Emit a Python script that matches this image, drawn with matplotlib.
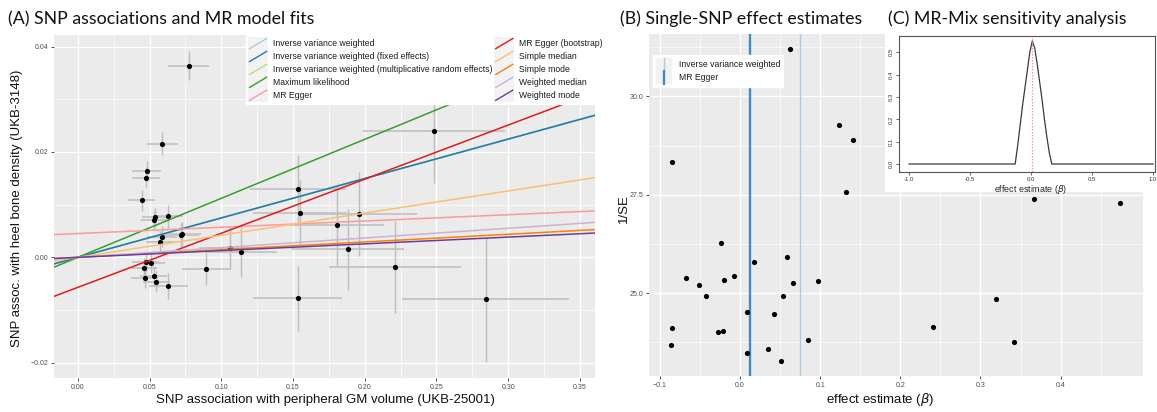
import matplotlib
matplotlib.use('Agg')
import matplotlib.pyplot as plt
from matplotlib.legend_handler import HandlerBase
from matplotlib.lines import Line2D
from matplotlib.patches import Rectangle
from matplotlib.ticker import FixedLocator, FixedFormatter

plt.rcParams['font.family'] = ['Liberation Sans', 'DejaVu Sans']

# ---------------- data: panel A (SNP associations) ----------------
bx = [0.0772, 0.0588, 0.0479, 0.0474, 0.0446, 0.0539, 0.0530, 0.0630, 0.0586, 0.0576,
      0.0716, 0.0729, 0.0474, 0.0513, 0.0462, 0.0465, 0.0530, 0.0546, 0.0632, 0.0895,
      0.1058, 0.1139, 0.1534, 0.1548, 0.1806, 0.1957, 0.1880, 0.2208, 0.1534, 0.2843,
      0.2485]
by = [0.0364, 0.0216, 0.0163, 0.0151, 0.0108, 0.0076, 0.0070, 0.0078, 0.0039, 0.0030,
      0.0042, 0.0045, -0.0009, -0.0011, -0.0020, -0.0039, -0.0036, -0.0046, -0.0054, -0.0022,
      0.0018, 0.0010, 0.0129, 0.0084, 0.0061, 0.0082, 0.0015, -0.0018, -0.0078, -0.0080,
      0.0240]
se_bx = [0.0144, 0.0108, 0.0102, 0.0099, 0.0093, 0.0090, 0.0092, 0.0100, 0.0105, 0.0100,
         0.0130, 0.0130, 0.0095, 0.0095, 0.0092, 0.0092, 0.0095, 0.0095, 0.0137, 0.0171,
         0.0210, 0.0250, 0.0335, 0.0330, 0.0331, 0.0405, 0.0395, 0.0460, 0.0310, 0.0580,
         0.0494]
se_by = [0.0027, 0.0021, 0.0019, 0.0018, 0.0020, 0.0018, 0.0018, 0.0022, 0.0020, 0.0020,
         0.0023, 0.0023, 0.0019, 0.0019, 0.0019, 0.0019, 0.0019, 0.0020, 0.0025, 0.0031,
         0.0040, 0.0048, 0.0065, 0.0063, 0.0077, 0.0080, 0.0077, 0.0087, 0.0061, 0.0118,
         0.0098]

methods = ["Inverse variance weighted",
           "Inverse variance weighted (fixed effects)",
           "Inverse variance weighted (multiplicative random effects)",
           "Maximum likelihood",
           "MR Egger",
           "MR Egger (bootstrap)",
           "Simple median",
           "Simple mode",
           "Weighted median",
           "Weighted mode"]
method_colors = ['#a6cee3', '#1f78b4', '#b2df8a', '#33a02c', '#fb9a99',
                 '#e31a1c', '#fdbf6f', '#ff7f00', '#cab2d6', '#6a3d9a']
slopes = [0.0748, 0.0748, 0.0748, 0.1120, 0.0119, 0.1027, 0.0420, 0.0146, 0.0184, 0.0128]
intercepts = [0.0, 0.0, 0.0, 0.0, 0.00452, -0.0057, 0.0, 0.0, 0.0, 0.0]
draw_order = [0, 2, 1, 3, 4, 5, 6, 7, 8, 9]

# ---------------- data: panel B (single-SNP estimates) ----------------
ratio = [0.0620, 0.1235, 0.1406, -0.0844, 0.1318, -0.0241, 0.0590, 0.0170, -0.0678, -0.0075,
         -0.0200, -0.0507, 0.0973, 0.0657, -0.0428, 0.0540, 0.0087, 0.0420, -0.0844, -0.0274,
         -0.0212, -0.0861, 0.0848, 0.0087, 0.0345, 0.0516, 0.3668, 0.4745, 0.3194, 0.2408,
         0.3423]
inv_se = [31.20, 29.28, 28.89, 28.32, 27.57, 26.28, 25.92, 25.78, 25.39, 25.43,
          25.33, 25.21, 25.31, 25.25, 24.93, 24.93, 24.53, 24.47, 24.11, 24.02,
          24.04, 23.69, 23.80, 23.47, 23.58, 23.26, 27.40, 27.29, 24.84, 24.13,
          23.75]
funnel_methods = ["Inverse variance weighted", "MR Egger"]
funnel_estimates = [0.0753, 0.0125]
funnel_colors = ['#a6cee3', '#3d8cc4']

# ---------------- data: panel C (MR-Mix profile) ----------------
mix_x = [-1.00, -0.13, -0.11, -0.09, -0.07, -0.05, -0.03, -0.01, 0.01, 0.03, 0.05,
         0.07, 0.09, 0.11, 0.13, 0.15, 0.17, 1.00]
mix_y = [0.0, 0.0, 0.08, 0.17, 0.26, 0.34, 0.42, 0.50, 0.55, 0.52, 0.45,
         0.37, 0.29, 0.20, 0.12, 0.05, 0.0, 0.0]
mix_est = 0.01

A_xticks = [0.00, 0.05, 0.10, 0.15, 0.20, 0.25, 0.30, 0.35]
A_yticks = [-0.02, 0.00, 0.02, 0.04]
B_xticks = [-0.1, 0.0, 0.1, 0.2, 0.3, 0.4]
B_yticks = [25.0, 27.5, 30.0]
C_xticks = [-1.0, -0.5, 0.0, 0.5, 1.0]
C_yticks = [0.0, 0.1, 0.2, 0.3, 0.4, 0.5]

# ---------------- layout helpers ----------------
W, H = 1157, 412
fig = plt.figure(figsize=(W / 100, H / 100), dpi=100)
fig.patch.set_facecolor('white')


def rect(l, t, r, b):
    return [l / W, 1 - b / H, (r - l) / W, (b - t) / H]


def gg_style(ax):
    ax.set_facecolor('#ebebeb')
    for s in ax.spines.values():
        s.set_visible(False)
    ax.set_axisbelow(True)
    ax.grid(which='major', color='white', lw=1.0)
    ax.grid(which='minor', color='white', lw=0.5)
    ax.tick_params(which='major', length=2.5, width=0.6, color='#333333',
                   labelsize=5, labelcolor='#4d4d4d', pad=1.5)
    ax.tick_params(which='minor', length=0)


def fmt_minus(v, nd):
    s = f"{v:.{nd}f}"
    return s.replace('-', '\u2212')


class KeyHandler(HandlerBase):
    def __init__(self, vertical=False, lw=1.0):
        super().__init__()
        self.vertical = vertical
        self.lw = lw

    def create_artists(self, legend, orig_handle, xdescent, ydescent, width, height,
                       fontsize, trans):
        x0, y0 = -xdescent, -ydescent
        bg = Rectangle((x0, y0), width, height, facecolor='#f2f2f2',
                       edgecolor='none', transform=trans)
        if self.vertical:
            ln = Line2D([x0 + width / 2] * 2, [y0, y0 + height],
                        color=orig_handle.get_color(), lw=orig_handle.get_linewidth(),
                        transform=trans)
        else:
            ln = Line2D([x0 + 1, x0 + width - 1], [y0 + 1, y0 + height - 1],
                        color=orig_handle.get_color(), lw=self.lw, transform=trans)
        return [bg, ln]


# ================= Panel A =================
axA = fig.add_axes(rect(54, 35, 595, 378))
gg_style(axA)
axA.set_xlim(-0.0166, 0.3605)
axA.set_ylim(-0.0229, 0.0422)
axA.xaxis.set_major_locator(FixedLocator(A_xticks))
axA.xaxis.set_major_formatter(FixedFormatter([fmt_minus(v, 2) for v in A_xticks]))
axA.xaxis.set_minor_locator(FixedLocator([0.025, 0.075, 0.125, 0.175, 0.225, 0.275, 0.325]))
axA.yaxis.set_major_locator(FixedLocator(A_yticks))
axA.yaxis.set_major_formatter(FixedFormatter([fmt_minus(v, 2) for v in A_yticks]))
axA.yaxis.set_minor_locator(FixedLocator([-0.01, 0.01, 0.03]))

axA.errorbar(bx, by, xerr=se_bx, fmt='none', ecolor='#c4c4c4', elinewidth=1.3, capsize=0, zorder=2)
axA.errorbar(bx, by, yerr=se_by, fmt='none', ecolor='#bdbdbd', elinewidth=1.0, capsize=0, zorder=2)
axA.scatter(bx, by, s=14, color='black', zorder=3, linewidths=0)
for i in draw_order:
    axA.axline((0, intercepts[i]), slope=slopes[i], color=method_colors[i], lw=1.1, zorder=4)

handlesA = [Line2D([], [], color=c) for c in method_colors]
legA = axA.legend(handlesA, methods, ncol=2, loc='upper left',
                  bbox_to_anchor=((246 - 54) / 541, 1.0), borderaxespad=0,
                  fontsize=6.2, frameon=True, fancybox=False, framealpha=1,
                  facecolor='white', edgecolor='white',
                  handler_map={Line2D: KeyHandler(vertical=False, lw=1.0)},
                  handlelength=2.3, handleheight=1.93, labelspacing=0.0,
                  handletextpad=0.6, columnspacing=0.2, borderpad=0.25)
legA.set_zorder(10)
for t in legA.get_texts():
    t.set_color('#1a1a1a')

# ================= Panel B =================
axB = fig.add_axes(rect(649, 34.3, 1142.7, 376))
gg_style(axB)
axB.set_xlim(-0.1135, 0.5024)
axB.set_ylim(22.89, 31.58)
axB.xaxis.set_major_locator(FixedLocator(B_xticks))
axB.xaxis.set_major_formatter(FixedFormatter([fmt_minus(v, 1) for v in B_xticks]))
axB.xaxis.set_minor_locator(FixedLocator([-0.05, 0.05, 0.15, 0.25, 0.35, 0.45]))
axB.yaxis.set_major_locator(FixedLocator(B_yticks))
axB.yaxis.set_major_formatter(FixedFormatter([fmt_minus(v, 1) for v in B_yticks]))
axB.yaxis.set_minor_locator(FixedLocator([23.75, 26.25, 28.75, 31.25]))

axB.scatter(ratio, inv_se, s=14, color='black', zorder=3, linewidths=0)
vl_widths = [1.0, 1.7]
handlesB = []
for est, col, lw in zip(funnel_estimates, funnel_colors, vl_widths):
    axB.axvline(est, color=col, lw=lw, zorder=2)
    handlesB.append(Line2D([], [], color=col, lw=lw))
legB = axB.legend(handlesB, funnel_methods, loc='upper left',
                  bbox_to_anchor=((653 - 649) / 493.7, 1 - (55 - 34.3) / 341.7),
                  borderaxespad=0, fontsize=6.2, frameon=True, fancybox=False,
                  framealpha=1, facecolor='white', edgecolor='white',
                  handler_map={Line2D: KeyHandler(vertical=True)},
                  handlelength=1.9, handleheight=1.93, labelspacing=0.0,
                  handletextpad=0.75, borderpad=0.35)
for t in legB.get_texts():
    t.set_color('#1a1a1a')

# ================= Panel C (inset, base-R style) =================
axBg = fig.add_axes(rect(885, 33, 1157, 192))
axBg.set_facecolor('white')
axBg.set_xticks([])
axBg.set_yticks([])
for s in axBg.spines.values():
    s.set_visible(False)

axC = fig.add_axes(rect(899, 36, 1155, 171.7))
axC.set_facecolor('white')
axC.plot(mix_x, mix_y, color='#3a3a3a', lw=0.9)
axC.axvline(mix_est, color='#f29a9a', ls=(0, (1.2, 1.2)), lw=0.9)
axC.set_xlim(-1.082, 1.016)
axC.set_ylim(-0.0345, 0.573)
axC.set_xticks(C_xticks)
axC.set_xticklabels([f"{v:.1f}" for v in C_xticks])
axC.set_yticks(C_yticks)
axC.set_yticklabels([f"{v:.1f}" for v in C_yticks], rotation=90, va='center')
axC.tick_params(length=2.5, width=0.6, color='#444444', labelsize=4.3,
                labelcolor='#333333', pad=1.5)
for s in axC.spines.values():
    s.set_color('#555555')
    s.set_linewidth(0.8)
fig.text(1031 / W, 1 - 189 / H, 'effect estimate ($\\it{\\beta}$)', fontsize=6.4,
         ha='center', va='center', color='#222222')

# ================= titles and axis labels =================
title_kw = dict(fontsize=12.8, family=['Lato', 'DejaVu Sans'], va='baseline', color='#111111')
fig.text(8 / W, 1 - 24 / H, '(A) SNP associations and MR model fits', **title_kw)
fig.text(620 / W, 1 - 24 / H, '(B) Single-SNP effect estimates', **title_kw)
fig.text(888 / W, 1 - 24 / H, '(C) MR-Mix sensitivity analysis', **title_kw)

lab_kw = dict(fontsize=9.5, ha='center', va='center', color='#111111')
fig.text(17.5 / W, 1 - 208 / H, 'SNP assoc. with heel bone density (UKB-3148)',
         rotation=90, **lab_kw)
fig.text(325 / W, 1 - 400 / H, 'SNP association with peripheral GM volume (UKB-25001)', **lab_kw)
fig.text(623.5 / W, 1 - 208.5 / H, '1/SE', rotation=90, **lab_kw)
fig.text(880 / W, 1 - 400 / H, 'effect estimate ($\\it{\\beta}$)', **lab_kw)

fig.savefig('out.png', dpi=100)
